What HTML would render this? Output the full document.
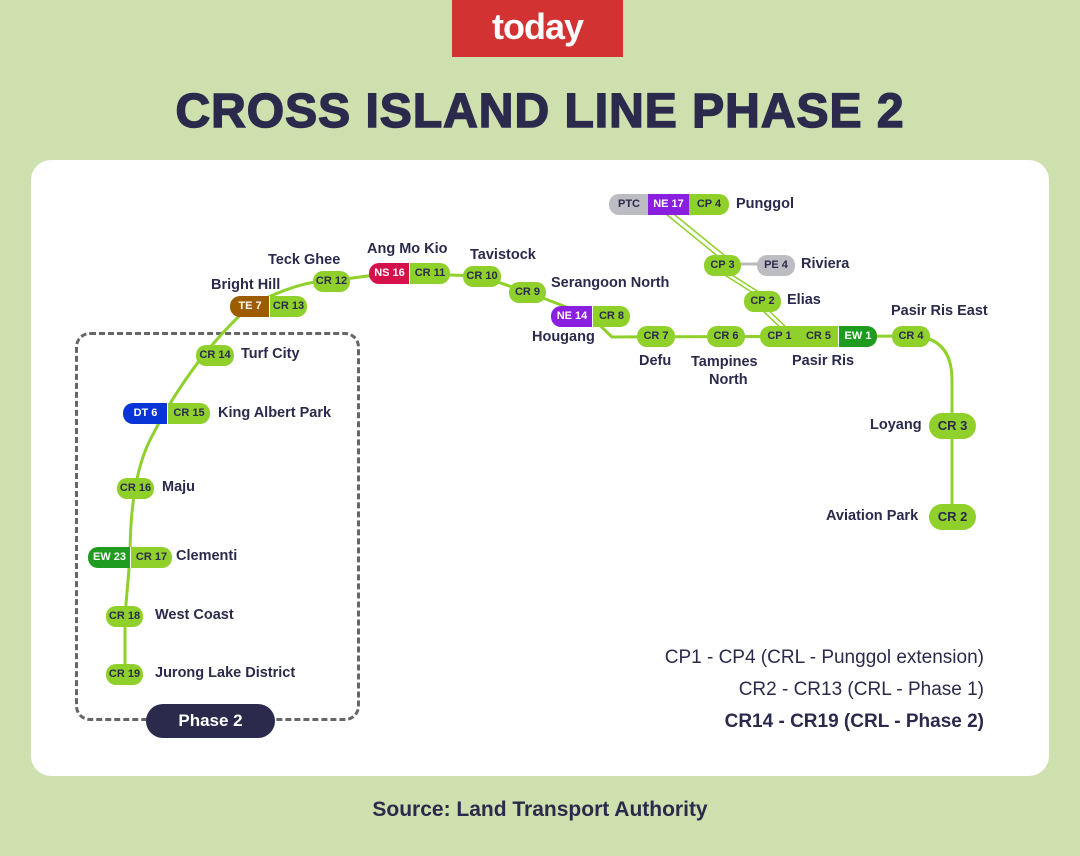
<!DOCTYPE html>
<html><head><meta charset="utf-8"><style>
*{margin:0;padding:0;box-sizing:border-box}
body{width:1080px;height:856px;background:#cde0ad;position:relative;overflow:hidden;font-family:"Liberation Sans",sans-serif;color:#2b2a4c}
.logo{position:absolute;left:452px;top:0;width:171px;height:57px;background:#d23232;color:#fff;font-weight:bold;font-size:36px;text-align:center;line-height:54px;letter-spacing:-1px}
.title{position:absolute;left:0;width:1080px;top:84px;text-align:center;font-size:48px;font-weight:900;letter-spacing:1px;-webkit-text-stroke:1.5px #2b2a4c}
.card{position:absolute;left:31px;top:160px;width:1018px;height:616px;background:#fff;border-radius:20px}
.p{position:absolute;height:21px;line-height:21px;font-size:11px;font-weight:bold;text-align:center;color:#2b2a4c;background:#8fd12a}
.l{position:absolute;font-size:14.5px;font-weight:bold;color:#2b2a4c;white-space:nowrap}
.dash{position:absolute;left:75px;top:332px;width:285px;height:389px;border:3px dashed #666;border-radius:15px}
.ph{position:absolute;left:146px;top:704px;width:129px;height:34px;background:#2b2a4c;color:#fff;border-radius:17px;text-align:center;line-height:34px;font-weight:bold;font-size:17px}
.leg{position:absolute;right:96px;font-size:19px;text-align:right;color:#2b2a4c}
.src{position:absolute;left:0;width:1080px;top:798px;text-align:center;font-size:21px;font-weight:bold}
</style></head><body>
<div class="logo">today</div>
<div class="title">CROSS ISLAND LINE PHASE 2</div>
<div class="card"></div>
<div class="dash"></div>
<svg style="position:absolute;left:0;top:0" width="1080" height="856">
<g fill="none" stroke="#8fd12a" stroke-width="3">
<path d="M125 675 L125 616 L130 557 Q130 480 150 440 Q190 360 250 306 Q300 280 330 281 L390 273 L480 276 L527 292 L590 316 L612 337 L910 336 Q952 336 952 380 L952 517"/>
<path d="M741 264 L776 264" stroke="#bbb"/>
</g>
<g stroke="#8fd12a" stroke-width="1.5" fill="none">
<path d="M666 214 L720 258 M670 211 L724 255"/>
<path d="M720 272 L758 296 M724 270 L762 294"/>
<path d="M760 308 L785 332 M764 306 L789 330"/>
</g>
</svg>
<div class="p" style="left:609px;top:194px;width:40px;background:#bcbcc3;border-radius:10px 0 0 10px">PTC</div>
<div class="p" style="left:648px;top:194px;width:41px;background:#8a1fe0;color:#fff">NE 17</div>
<div class="p" style="left:689px;top:194px;width:40px;border-radius:0 10px 10px 0">CP 4</div>
<div class="l" style="left:736px;top:196px">Punggol</div>
<div class="p" style="left:704px;top:255px;width:37px;border-radius:10px">CP 3</div>
<div class="p" style="left:757px;top:255px;width:38px;border-radius:10px;background:#bcbcc3">PE 4</div>
<div class="l" style="left:801px;top:256px">Riviera</div>
<div class="p" style="left:744px;top:291px;width:37px;border-radius:10px">CP 2</div>
<div class="l" style="left:787px;top:292px">Elias</div>
<div class="p" style="left:760px;top:326px;width:40px;border-radius:10px 0 0 10px;border-right:1px solid #fff">CP 1</div>
<div class="p" style="left:799px;top:326px;width:40px;border-right:1px solid #fff">CR 5</div>
<div class="p" style="left:839px;top:326px;width:38px;border-radius:0 10px 10px 0;background:#1f9c1f;color:#fff">EW 1</div>
<div class="l" style="left:792px;top:353px">Pasir Ris</div>
<div class="p" style="left:892px;top:326px;width:38px;border-radius:10px">CR 4</div>
<div class="l" style="left:891px;top:303px">Pasir Ris East</div>
<div class="p" style="left:707px;top:326px;width:38px;border-radius:10px">CR 6</div>
<div class="l" style="left:691px;top:353px;text-align:center;line-height:18px">Tampines<br>&nbsp;&nbsp;North</div>
<div class="p" style="left:637px;top:326px;width:38px;border-radius:10px">CR 7</div>
<div class="l" style="left:639px;top:353px">Defu</div>
<div class="p" style="left:551px;top:306px;width:42px;border-radius:10px 0 0 10px;background:#8a1fe0;color:#fff">NE 14</div>
<div class="p" style="left:592px;top:306px;width:38px;border-radius:0 10px 10px 0;border-left:1px solid #fff">CR 8</div>
<div class="l" style="left:532px;top:329px">Hougang</div>
<div class="p" style="left:509px;top:282px;width:37px;border-radius:10px">CR 9</div>
<div class="l" style="left:551px;top:275px">Serangoon North</div>
<div class="p" style="left:463px;top:266px;width:38px;border-radius:10px">CR 10</div>
<div class="l" style="left:470px;top:247px">Tavistock</div>
<div class="p" style="left:369px;top:263px;width:41px;border-radius:10px 0 0 10px;background:#d5104a;color:#fff">NS 16</div>
<div class="p" style="left:409px;top:263px;width:41px;border-radius:0 10px 10px 0;border-left:1px solid #fff">CR 11</div>
<div class="l" style="left:367px;top:241px">Ang Mo Kio</div>
<div class="p" style="left:313px;top:271px;width:37px;border-radius:10px">CR 12</div>
<div class="l" style="left:268px;top:252px">Teck Ghee</div>
<div class="p" style="left:230px;top:296px;width:40px;border-radius:10px 0 0 10px;background:#9e5c00;color:#fff">TE 7</div>
<div class="p" style="left:269px;top:296px;width:38px;border-radius:0 10px 10px 0;border-left:1px solid #fff">CR 13</div>
<div class="l" style="left:211px;top:277px">Bright Hill</div>
<div class="p" style="left:196px;top:345px;width:38px;border-radius:10px">CR 14</div>
<div class="l" style="left:241px;top:346px">Turf City</div>
<div class="p" style="left:123px;top:403px;width:45px;border-radius:10px 0 0 10px;background:#0a35d6;color:#fff">DT 6</div>
<div class="p" style="left:167px;top:403px;width:43px;border-radius:0 10px 10px 0;border-left:1px solid #fff">CR 15</div>
<div class="l" style="left:218px;top:405px">King Albert Park</div>
<div class="p" style="left:117px;top:478px;width:37px;border-radius:10px">CR 16</div>
<div class="l" style="left:162px;top:479px">Maju</div>
<div class="p" style="left:88px;top:547px;width:43px;border-radius:10px 0 0 10px;background:#1f9c1f;color:#fff">EW 23</div>
<div class="p" style="left:130px;top:547px;width:42px;border-radius:0 10px 10px 0;border-left:1px solid #fff">CR 17</div>
<div class="l" style="left:176px;top:548px">Clementi</div>
<div class="p" style="left:106px;top:606px;width:37px;border-radius:10px">CR 18</div>
<div class="l" style="left:155px;top:607px">West Coast</div>
<div class="p" style="left:106px;top:664px;width:37px;border-radius:10px">CR 19</div>
<div class="l" style="left:155px;top:665px">Jurong Lake District</div>
<div class="p" style="left:929px;top:413px;width:47px;height:26px;line-height:26px;border-radius:13px;font-size:13px">CR 3</div>
<div class="l" style="left:870px;top:417px">Loyang</div>
<div class="p" style="left:929px;top:504px;width:47px;height:26px;line-height:26px;border-radius:13px;font-size:13px">CR 2</div>
<div class="l" style="left:826px;top:508px">Aviation Park</div>
<div class="ph">Phase 2</div>
<div class="leg" style="top:647px">CP1 - CP4 (CRL - Punggol extension)</div>
<div class="leg" style="top:679px">CR2 - CR13 (CRL - Phase 1)</div>
<div class="leg" style="top:711px;font-weight:bold">CR14 - CR19 (CRL - Phase 2)</div>
<div class="src">Source: Land Transport Authority</div>
</body></html>
